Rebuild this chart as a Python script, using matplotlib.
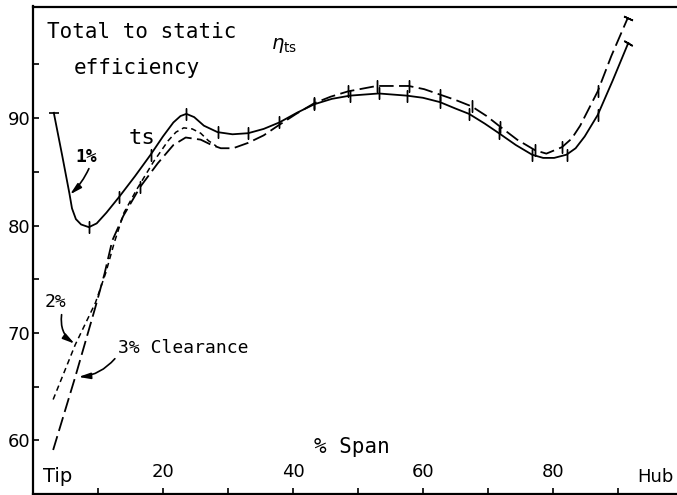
import numpy as np
import matplotlib
matplotlib.use('Agg')
import matplotlib.pyplot as plt

plt.rcParams['font.family'] = ['DejaVu Sans Mono', 'DejaVu Sans']

# 1% clearance (solid)
x1 = [3.2, 4.5, 5.6, 6.0, 6.6, 7.4, 8.6, 9.8, 11.3, 13.3, 15.7, 18.1, 20.0, 21.6, 22.7,
      23.6, 24.8, 26.3, 28.4, 30.7, 33.1, 35.5, 37.9, 40.6, 43.3, 46.0, 48.8, 53.2, 57.5,
      60.0, 62.6, 65.0, 67.1, 69.5, 71.7, 74.3, 76.8, 78.5, 80.2, 82.1, 83.5, 84.9, 86.9,
      89.2, 91.6]
y1 = [90.5, 86.5, 83.0, 81.6, 80.6, 80.1, 79.85, 80.2, 81.2, 82.7, 84.6, 86.6, 88.3, 89.6, 90.2,
      90.4, 90.1, 89.3, 88.7, 88.5, 88.6, 89.0, 89.6, 90.5, 91.3, 91.8, 92.1, 92.3, 92.1,
      91.9, 91.5, 90.9, 90.4, 89.5, 88.6, 87.5, 86.6, 86.3, 86.3, 86.6, 87.2, 88.3, 90.3,
      93.5, 97.0]
ticks1 = [6, 9, 11, 15, 18, 20, 22, 24, 26, 27, 28, 30, 32, 34, 36, 39, 42]

# 2% clearance (short dash)
x2 = [3.1, 6.5, 9.6, 11.2, 12.5, 14.0, 16.0, 18.5, 20.8, 22.0, 23.2, 24.5, 25.8, 27.0, 28.2]
y2 = [63.8, 68.9, 72.8, 75.6, 78.4, 81.2, 83.4, 85.9, 87.9, 88.7, 89.1, 89.0, 88.6, 87.9, 87.4]

# 3% clearance (long dash)
x3 = [3.1, 6.5, 9.6, 11.0, 12.2, 13.9, 16.5, 19.2, 21.6, 23.5, 25.8, 27.5, 28.9, 30.8, 33.1,
      35.5, 37.7, 40.5, 43.3, 45.8, 48.5, 52.9, 57.8, 60.2, 62.6, 65.0, 67.5, 69.8, 71.9,
      74.5, 77.3, 79.0, 81.4, 82.9, 84.2, 86.9, 89.0, 91.5]
y3 = [59.1, 65.9, 72.4, 75.5, 78.6, 80.9, 83.6, 85.8, 87.5, 88.2, 88.0, 87.5, 87.2, 87.2, 87.7,
      88.4, 89.3, 90.4, 91.4, 92.0, 92.5, 93.0, 93.0, 92.7, 92.2, 91.7, 91.1, 90.2, 89.2,
      88.0, 87.0, 86.7, 87.3, 88.1, 89.3, 92.5, 95.8, 99.3]
ticks3 = [6, 18, 20, 21, 22, 24, 26, 28, 30, 32, 35]

fig = plt.figure(figsize=(6.77, 4.95), dpi=100)
ax = fig.add_axes([33/677, 1/495, 1 - 33/677, 1 - 7.5/495])

lw = 1.3
ax.plot(x1, y1, color='black', lw=lw, marker=(2, 2, 0), markersize=8,
        markeredgewidth=1.0, markevery=ticks1)
ax.plot(x2, y2, color='black', lw=1.1, linestyle=(0, (3.6, 2.6)))
ax.plot(x3, y3, color='black', lw=lw, linestyle=(0, (8, 3)), marker=(2, 2, 0),
        markersize=8, markeredgewidth=1.0, markevery=ticks3)

# end caps
ax.plot([x1[0]], [y1[0]], marker='_', markersize=7, color='black', mew=1.2)
ax.plot([x1[-1]], [y1[-1]], marker=(2, 2, 60), markersize=7, color='black', mew=1.2)
ax.plot([x3[-1]], [y3[-1]], marker=(2, 2, 65), markersize=7, color='black', mew=1.2)

ax.set_xlim(0, 99.1)
ax.set_ylim(55, 100.4)

ax.set_yticks([60, 70, 80, 90])
ax.set_yticks([65, 75, 85, 95], minor=True)
ax.set_xticks([20, 40, 60, 80])
ax.set_xticks([10, 30, 50, 70, 90], minor=True)
ax.tick_params(axis='both', which='both', direction='in', length=4, width=1.2)
ax.tick_params(axis='y', labelsize=13, pad=2)
ax.tick_params(axis='x', labelsize=13, pad=-22)
for lab in ax.get_yticklabels():
    lab.set_family('DejaVu Sans')
for lab in ax.get_xticklabels():
    lab.set_family('DejaVu Sans')

ax.spines['right'].set_visible(False)
for s in ['left', 'bottom', 'top']:
    ax.spines[s].set_linewidth(1.6)

ax.text(2.2, 98.0, 'Total to static', fontsize=15, va='center', ha='left')
ax.text(6.2, 94.7, 'efficiency', fontsize=15, va='center', ha='left')
ax.text(38.6, 96.8, r'$\eta_{\rm ts}$', fontsize=14, va='center', ha='center')
ax.text(16.8, 88.2, 'ts', fontsize=16, va='center', ha='center')
ax.text(43.3, 59.4, '% Span', fontsize=15, va='center', ha='left')
ax.text(1.5, 56.6, 'Tip', fontsize=14, va='center', ha='left', family='DejaVu Sans')
ax.text(98.6, 56.6, 'Hub', fontsize=13, va='center', ha='right', family='DejaVu Sans')

arrow = dict(arrowstyle='-|>,head_length=0.7,head_width=0.18', color='black', lw=1.2,
             shrinkA=0, shrinkB=0)
ax.text(8.2, 86.4, '1%', fontsize=13, va='center', ha='center', fontweight='bold')
ax.annotate('', xy=(5.7, 82.9), xytext=(8.6, 85.3),
            arrowprops=dict(arrow, connectionstyle='arc3,rad=-0.1'))
ax.text(3.4, 72.9, '2%', fontsize=13, va='center', ha='center')
ax.annotate('', xy=(6.4, 69.0), xytext=(4.4, 71.7),
            arrowprops=dict(arrow, connectionstyle='arc3,rad=0.3'))
ax.text(13.1, 68.6, '3% Clearance', fontsize=13, va='center', ha='left')
ax.annotate('', xy=(7.0, 65.9), xytext=(12.6, 67.6),
            arrowprops=dict(arrow, connectionstyle='arc3,rad=-0.2'))

fig.savefig('out.png', dpi=100)
